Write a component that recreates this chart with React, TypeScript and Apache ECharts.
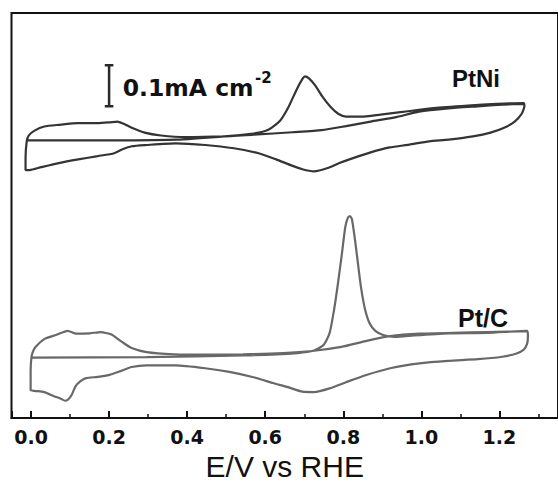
import React, { useEffect, useRef } from "react";
import * as echarts from "echarts";

// Potential axis (V vs RHE)
const X_MIN = -0.05;
const X_MAX = 1.35;
const X_TICKS = [0, 0.2, 0.4, 0.6, 0.8, 1.0, 1.2];

// Vertical offsets of the two stacked voltammograms (mA cm-2)
const OFFSET_PTNI = 0.675;
const OFFSET_PTC = 0.147;

// Scale bar: 0.1 mA cm-2
const SCALE_BAR = 0.1;
const SCALE_BAR_E = 0.2;
const SCALE_BAR_BASE = 0.758;
const SCALE_CAP = 0.011;

// PtNi: first anodic scan (CO stripping), cathodic scan, second anodic scan
const E_PTNI = [
  -0.011, 0.171, 0.371, 0.495, 0.57, 0.608, 0.638, 0.66, 0.68, 0.695, 0.702, 0.712, 0.727, 0.747,
  0.767, 0.787, 0.807, 0.845, 0.895, 0.957, 1.032, 1.119, 1.194, 1.262,
  1.264, 1.257, 1.239, 1.212, 1.177, 1.132, 1.07, 1.02, 0.969, 0.919, 0.87, 0.825, 0.79, 0.76,
  0.725, 0.695, 0.665, 0.628, 0.583, 0.52, 0.446, 0.371, 0.296, 0.258, 0.233, 0.213, 0.171,
  0.121, 0.071, 0.026, -0.004, -0.014, -0.014, -0.011,
  -0.006, 0.009, 0.034, 0.071, 0.121, 0.171, 0.201, 0.221, 0.236, 0.258, 0.291, 0.333, 0.396,
  0.495, 0.57, 0.67, 0.745, 0.807, 0.87, 0.932, 0.994, 1.069, 1.144, 1.207, 1.262,
];
const I_PTNI = [
  0, 0, 0.002, 0.01, 0.017, 0.026, 0.048, 0.082, 0.123, 0.149, 0.156, 0.151, 0.135, 0.106,
  0.082, 0.065, 0.058, 0.058, 0.063, 0.07, 0.079, 0.085, 0.089, 0.091,
  0.084, 0.065, 0.046, 0.031, 0.019, 0.01, 0.002, -0.002, -0.01, -0.017, -0.029, -0.043, -0.055,
  -0.067, -0.075, -0.07, -0.06, -0.046, -0.031, -0.019, -0.011, -0.007, -0.011, -0.014, -0.022,
  -0.031, -0.038, -0.046, -0.055, -0.065, -0.072, -0.072, -0.043, -0.002,
  0.012, 0.024, 0.034, 0.038, 0.042, 0.042, 0.044, 0.046, 0.041, 0.031, 0.019, 0.012, 0.008,
  0.01, 0.014, 0.02, 0.025, 0.035, 0.046, 0.056, 0.07, 0.078, 0.083, 0.087, 0.089,
];

// Pt/C: first anodic scan (CO stripping), cathodic scan, second anodic scan
const E_PTC = [
  0.0, 0.296, 0.545, 0.683, 0.725, 0.75, 0.765, 0.777, 0.787, 0.797, 0.805, 0.812, 0.817, 0.822,
  0.829, 0.837, 0.845, 0.855, 0.867, 0.882, 0.902, 0.932, 0.982, 1.069, 1.169, 1.271,
  1.273, 1.271, 1.262, 1.244, 1.207, 1.145, 1.069, 0.995, 0.92, 0.857, 0.807, 0.765, 0.725, 0.695,
  0.658, 0.62, 0.57, 0.508, 0.446, 0.371, 0.296, 0.258, 0.226, 0.201, 0.171, 0.141, 0.126, 0.114,
  0.104, 0.095, 0.087, 0.076, 0.059, 0.034, 0.009, -0.001, -0.001, 0.001,
  0.004, 0.011, 0.036, 0.064, 0.094, 0.116, 0.151, 0.178, 0.206, 0.233, 0.258, 0.296, 0.366,
  0.453, 0.543, 0.645, 0.72, 0.795, 0.857, 0.92, 0.995, 1.082, 1.169, 1.271,
];
const I_PTC = [
  0, 0.001, 0.005, 0.011, 0.017, 0.031, 0.06, 0.12, 0.185, 0.257, 0.317, 0.341, 0.344, 0.337,
  0.293, 0.233, 0.173, 0.12, 0.084, 0.065, 0.055, 0.05, 0.054, 0.059, 0.06, 0.065,
  0.053, 0.034, 0.019, 0.01, 0.002, -0.004, -0.008, -0.014, -0.026, -0.043, -0.06, -0.075, -0.084,
  -0.083, -0.072, -0.062, -0.048, -0.035, -0.026, -0.019, -0.019, -0.023, -0.034, -0.042, -0.047,
  -0.05, -0.058, -0.07, -0.091, -0.102, -0.105, -0.1, -0.094, -0.084, -0.081, -0.079, -0.031, 0,
  0.012, 0.025, 0.046, 0.055, 0.065, 0.058, 0.059, 0.062, 0.056, 0.038, 0.023, 0.013, 0.008,
  0.007, 0.008, 0.011, 0.016, 0.026, 0.04, 0.052, 0.058, 0.06, 0.062, 0.064,
];

const build = (E: number[], I: number[], off: number) => E.map((e, i) => [e, off + I[i]]);

export default function App() {
  const ref = useRef<HTMLDivElement>(null);
  useEffect(() => {
    const chart = echarts.init(ref.current!, null, { renderer: "svg" });
    const barTop = SCALE_BAR_BASE + SCALE_BAR;
    const barStyle = { color: "#2a2a2a", width: 2.5 };
    const bar = (data: number[][]) => ({
      type: "line",
      data,
      symbol: "none",
      lineStyle: barStyle,
      silent: true,
    });
    chart.setOption({
      animation: false,
      backgroundColor: "#ffffff",
      grid: {
        left: 11.5,
        top: 13,
        width: 561,
        height: 410,
        show: true,
        borderColor: "#111111",
        borderWidth: 2,
        backgroundColor: "transparent",
      },
      xAxis: {
        type: "value",
        min: X_MIN,
        max: X_MAX,
        splitNumber: 7,
        minInterval: 0.2,
        maxInterval: 0.2,
        name: "E/V vs RHE",
        nameLocation: "middle",
        nameGap: 33,
        nameTextStyle: { fontFamily: "Liberation Sans", fontSize: 30, color: "#111111" },
        axisLine: { show: true, lineStyle: { color: "#111111", width: 2 } },
        axisTick: { show: true, inside: true, length: 7, lineStyle: { color: "#111111", width: 2 } },
        minorTick: { show: true, splitNumber: 2, length: 4, lineStyle: { color: "#111111", width: 1.5 } },
        axisLabel: {
          customValues: X_TICKS,
          formatter: (v: number) => v.toFixed(1),
          margin: 9,
          fontFamily: "DejaVu Sans",
          fontWeight: "bold",
          fontSize: 19,
          color: "#111111",
        },
        splitLine: { show: false },
      },
      yAxis: {
        type: "value",
        min: 0,
        max: 0.985,
        show: false,
        splitLine: { show: false },
      },
      series: [
        {
          name: "PtNi",
          type: "line",
          data: build(E_PTNI, I_PTNI, OFFSET_PTNI),
          symbol: "none",
          smooth: 0.2,
          lineStyle: { color: "#343434", width: 2.2 },
        },
        {
          name: "Pt/C",
          type: "line",
          data: build(E_PTC, I_PTC, OFFSET_PTC),
          symbol: "none",
          smooth: 0.2,
          lineStyle: { color: "#686868", width: 2.2 },
        },
        bar([[SCALE_BAR_E, SCALE_BAR_BASE], [SCALE_BAR_E, barTop]]),
        bar([[SCALE_BAR_E - SCALE_CAP, barTop], [SCALE_BAR_E + SCALE_CAP, barTop]]),
        bar([[SCALE_BAR_E - SCALE_CAP, SCALE_BAR_BASE], [SCALE_BAR_E + SCALE_CAP, SCALE_BAR_BASE]]),
      ],
      graphic: [
        {
          type: "text",
          x: 122.7,
          y: 88.4,
          style: {
            text: "0.1mA cm",
            fontFamily: "DejaVu Sans",
            fontWeight: "bold",
            fontSize: 23.5,
            fill: "#111111",
            textAlign: "left",
            textVerticalAlign: "middle",
          },
        },
        {
          type: "text",
          x: 255,
          y: 77.5,
          style: {
            text: "-2",
            fontFamily: "DejaVu Sans",
            fontWeight: "bold",
            fontSize: 15,
            fill: "#111111",
            textAlign: "left",
            textVerticalAlign: "middle",
          },
        },
        {
          type: "text",
          x: 452,
          y: 78.7,
          style: {
            text: "PtNi",
            fontFamily: "Liberation Sans",
            fontWeight: "bold",
            fontSize: 24,
            fill: "#111111",
            textAlign: "left",
            textVerticalAlign: "middle",
          },
        },
        {
          type: "text",
          x: 458,
          y: 318,
          style: {
            text: "Pt/C",
            fontFamily: "Liberation Sans",
            fontWeight: "bold",
            fontSize: 25,
            fill: "#111111",
            textAlign: "left",
            textVerticalAlign: "middle",
          },
        },
      ],
    });
    return () => chart.dispose();
  }, []);
  return (
    <div
      ref={ref}
      style={{ position: "fixed", left: 0, top: 0, width: 558, height: 486, background: "#fff" }}
    />
  );
}
